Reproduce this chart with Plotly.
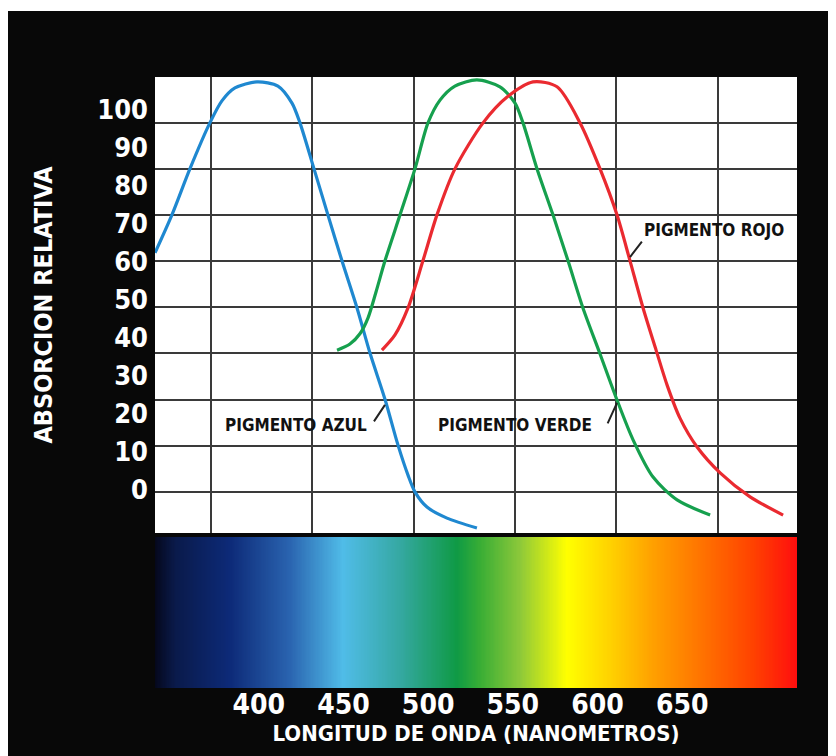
import numpy as np
import plotly.graph_objects as go

# ---------------- data ----------------
BLUE_NM = [338.7, 348.7, 359.3, 371.1, 378.2, 385.9, 398.9, 411.3, 419.6, 424.3, 432.6,
           440.8, 449.1, 458.0, 465.6, 474.5, 482.2, 488.1, 492.2, 499.3, 511.1, 528.8]
BLUE_VAL = [62.4, 72.4, 84.5, 96.6, 102.4, 105.8, 107.4, 106.3, 101.8, 96.6, 84.5,
            72.4, 60.3, 47.9, 36.1, 23.9, 11.8, 3.9, -0.5, -4.5, -7.4, -10.0]

GREEN_NM = [446.2, 453.8, 459.7, 464.5, 469.2, 474.5, 483.4, 492.2, 499.9, 507.0, 515.8, 528.8,
            542.4, 551.3, 556.0, 564.3, 573.7, 582.6, 591.4, 601.5, 611.5, 621.0, 632.8,
            647.0, 666.5]
GREEN_VAL = [36.8, 38.4, 41.1, 45.3, 52.1, 60.3, 72.4, 84.5, 96.6, 102.6, 106.3, 107.9,
             106.1, 101.8, 96.6, 84.5, 72.4, 60.3, 47.9, 35.8, 23.7, 13.2, 3.4, -2.6, -6.6]

RED_NM = [472.7, 480.4, 488.1, 496.9, 505.2, 515.8, 532.4, 546.6, 561.9, 576.1, 589.7,
          601.5, 611.5, 619.2, 626.9, 634.6, 641.1, 648.7, 658.8, 672.4, 690.1, 709.6]
RED_VAL = [36.8, 40.8, 47.9, 60.3, 72.4, 84.5, 96.6, 103.4, 107.4, 106.1, 96.6,
           84.5, 72.4, 60.3, 47.9, 36.8, 27.6, 18.9, 11.3, 4.5, -1.8, -6.6]

Y_TICKS = [0, 10, 20, 30, 40, 50, 60, 70, 80, 90, 100]
X_TICKS = [400, 450, 500, 550, 600, 650]

SPECTRUM_NM = [338.7, 350.5, 383.0, 418.4, 449.7, 483.4, 517.0, 530.6, 554.2,
               582.0, 607.4, 632.8, 662.3, 691.9, 717.8]
SPECTRUM_COLORS = ["#05081c", "#0a1a4a", "#0d2a78", "#2a64b0", "#50bce8", "#35a8a2",
                   "#0f9a45", "#38ad35", "#8cc83a", "#ffff00", "#ffd200", "#ffa000",
                   "#ff7200", "#ff4200", "#ff0e0e"]

LABELS = ["PIGMENTO AZUL", "PIGMENTO VERDE", "PIGMENTO ROJO"]
LABEL_NM = [421.9, 551.3, 668.8]
LABEL_VAL = [17.1, 17.1, 68.4]
LEADER_NM = [474.5, 611.5, 619.2]
LEADER_VAL = [22.4, 22.9, 61.3]

# ---------------- layout constants ----------------
XMIN, XMAX = 338.7, 717.8
YMIN, YMAX = -11.32, 108.68
FONT = "DejaVu Sans Condensed, Liberation Sans Narrow, sans-serif"
# the page adds an 8px white margin around the figure (like the reference's white edge)
W, H = 828, 748
ML, MR, MT, MB = 147, 39, 69, 68
PW, PH = W - ML - MR, H - MT - MB
BG = "#080808"
GRID = "#3a3a3a"

fig = go.Figure()

# spectrum band
xs = np.linspace(XMIN, XMAX, 500)
cs = [[(v - XMIN) / (XMAX - XMIN), c] for v, c in zip(SPECTRUM_NM, SPECTRUM_COLORS)]
fig.add_trace(go.Heatmap(x=xs, y=[0], z=[xs], zmin=XMIN, zmax=XMAX, colorscale=cs,
                         showscale=False, hoverinfo="skip", xaxis="x2", yaxis="y3"))

for nm, val, col in [(BLUE_NM, BLUE_VAL, "#1f88d0"),
                     (GREEN_NM, GREEN_VAL, "#16a04e"),
                     (RED_NM, RED_VAL, "#ea2a30")]:
    fig.add_trace(go.Scatter(x=nm, y=val, mode="lines",
                             line=dict(color=col, width=3.2, shape="spline", smoothing=0.8),
                             showlegend=False, hoverinfo="skip", xaxis="x", yaxis="y2"))

top_dom = [(H - MB - 525) / PH, 1]
spec_dom = [0, (H - MB - 529) / PH]

fig.update_layout(
    width=W, height=H,
    margin=dict(l=ML, r=MR, t=MT, b=MB),
    paper_bgcolor=BG, plot_bgcolor="white",
    showlegend=False,
    xaxis=dict(domain=[0, 1], anchor="y", range=[XMIN, XMAX], tick0=371.6, dtick=59.9,
               showgrid=True, gridcolor=GRID, gridwidth=2, showticklabels=False,
               zeroline=False, showline=False, ticks=""),
    # labelled axis (relative absorption scale)
    yaxis=dict(domain=top_dom, anchor="x", range=[YMIN, YMAX],
               tickvals=Y_TICKS, ticktext=[str(v) for v in Y_TICKS], showgrid=False,
               zeroline=False, showline=False, ticks="", ticklabelstandoff=6,
               tickfont=dict(family=FONT, size=27, color="white", weight="bold"),
               title=dict(text="ABSORCION RELATIVA", standoff=37,
                          font=dict(family=FONT, size=25, color="white", weight="bold"))),
    # grid axis (overlay, same scale)
    yaxis2=dict(overlaying="y", side="left", anchor="x", range=[YMIN, YMAX],
                tick0=-0.5, dtick=12.14, showgrid=True, gridcolor=GRID, gridwidth=2,
                showticklabels=False, zeroline=False, showline=False, ticks=""),
    xaxis2=dict(domain=[0, 1], anchor="y3", range=[XMIN, XMAX], tickvals=X_TICKS,
                ticktext=[str(v) for v in X_TICKS], showgrid=False, zeroline=False,
                showline=False, ticks="", ticklabelstandoff=-3,
                tickfont=dict(family=FONT, size=28, color="white", weight="bold"),
                title=dict(text="LONGITUD DE ONDA (NANOMETROS)", standoff=4,
                           font=dict(family=FONT, size=22, color="white", weight="bold"))),
    yaxis3=dict(domain=spec_dom, anchor="x2", range=[-0.5, 0.5], showgrid=False,
                zeroline=False, showticklabels=False, ticks=""),
)

# thin extra white strip at the very top
fig.add_shape(type="rect", xref="paper", yref="paper", layer="below",
              x0=-ML / PW, x1=(W - ML) / PW, y0=(H - MB - 3) / PH, y1=(H - MB) / PH,
              fillcolor="white", line_width=0)

for txt, x, y in zip(LABELS, LABEL_NM, LABEL_VAL):
    fig.add_annotation(x=x, y=y, xref="x", yref="y", text=txt, showarrow=False,
                       font=dict(family=FONT, size=17, color="#111111", weight="bold"))

for x, y, (ax, ay) in zip(LEADER_NM, LEADER_VAL, [(-12, 18), (-10, 22), (13, -17)]):
    fig.add_annotation(x=x, y=y, xref="x", yref="y", text="", showarrow=True,
                       arrowhead=0, arrowwidth=2, arrowcolor="#222222", ax=ax, ay=ay)

fig.write_html("out.html")
